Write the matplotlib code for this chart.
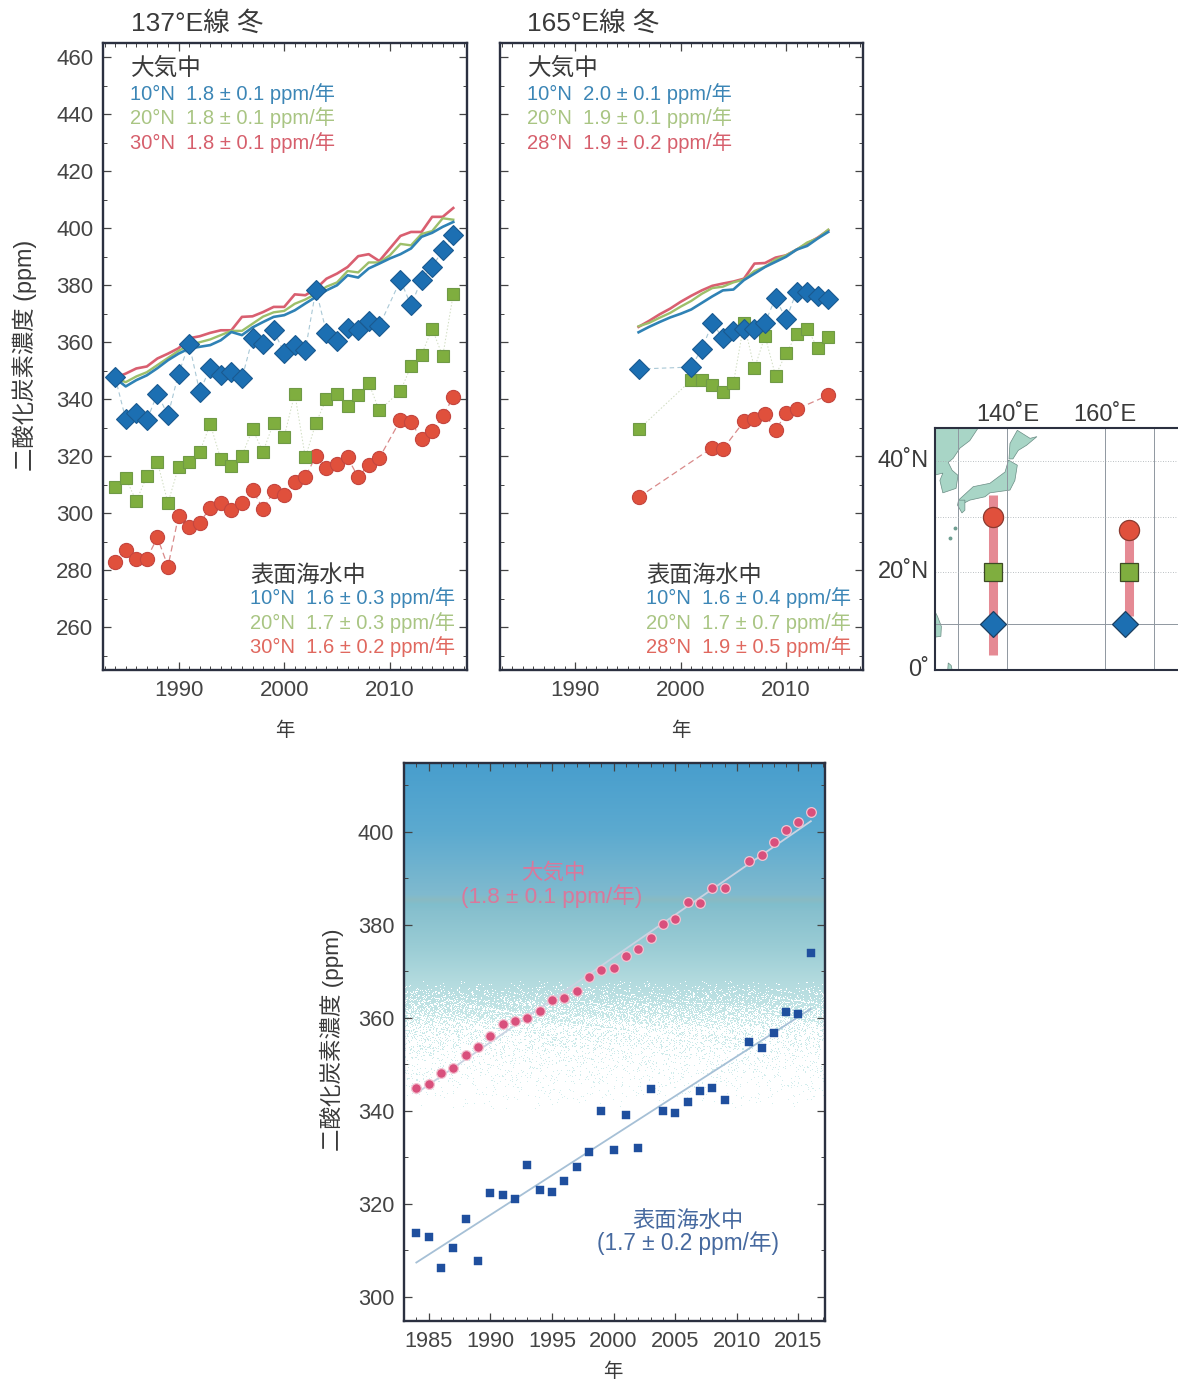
import numpy as np
import matplotlib
matplotlib.use('Agg')
import matplotlib.pyplot as plt
from matplotlib.ticker import MultipleLocator

plt.rcParams['font.family'] = ['Liberation Sans', 'Noto Sans CJK JP', 'DejaVu Sans']

W, H = 1178, 1380

# 137E section, winter
years_137 = [1984, 1985, 1986, 1987, 1988, 1989, 1990, 1991, 1992, 1993, 1994, 1995, 1996, 1997, 1998, 1999,
             2000, 2001, 2002, 2003, 2004, 2005, 2006, 2007, 2008, 2009, 2011, 2012, 2013, 2014, 2015, 2016]
sea_137_10 = [347.7, 333, 335.3, 332.6, 342, 334.3, 349, 359.5, 342.6, 351.1, 348.4, 349.5, 347.3, 361.4, 359.3, 364.2,
              356.2, 358.9, 357.2, 378.5, 363.4, 360.4, 365, 364.2, 367.4, 365.7, 381.8, 373, 382, 386.4, 392.3, 397.6]
sea_137_20 = [309.1, 312.3, 304.3, 312.9, 318, 303.6, 316.2, 318, 321.5, 331.3, 319, 316.5, 320.2, 329.4, 321.6, 331.8,
              326.9, 342, 319.6, 331.7, 340.1, 342, 337.8, 341.6, 345.6, 336.1, 342.9, 351.5, 355.6, 364.8, 355.1, 376.8]
sea_137_30 = [283, 287.1, 284, 284.1, 291.5, 281.3, 299.1, 295.1, 296.7, 301.9, 303.7, 301, 303.5, 308.2, 301.5, 307.7,
              306.4, 310.8, 312.8, 320, 316, 317.2, 319.6, 312.6, 317.1, 319.4, 332.7, 332, 326, 328.9, 334, 340.8]

air_years_137 = list(range(1984, 2017))
air_137_10 = [347.4, 344.5, 346.7, 348.4, 350.9, 353.7, 356, 357.8, 358.4, 359, 360.7, 363.6, 362.5, 365.2, 367.1, 368.9, 369.5,
              371.2, 373.6, 375.9, 378.2, 380, 383.5, 382.7, 385.9, 387.6, 389.4, 390.9, 392.9, 397, 398.4, 400.5, 402.2]
air_137_20 = [347.5, 346, 348, 349.5, 352, 354.5, 357, 359, 360, 361, 362.5, 364, 364, 366.5, 369, 370.5, 371,
              373.5, 375, 377, 379.5, 381, 385, 384.5, 388, 388, 390.5, 394.5, 394, 398, 399, 403.5, 403]
air_137_30 = [347.5, 349, 350.8, 351.5, 354.3, 356, 357.9, 361.4, 362.1, 363.3, 364.2, 364.2, 368.9, 369.1, 370.6, 372.4, 372.4,
              376.8, 376.5, 378.8, 382.3, 384.1, 386.4, 390.2, 390.9, 388.5, 392.9, 397.3, 398.7, 398.7, 404, 404, 407.1]

# 165E section, winter
years_165_10 = [1996, 2001, 2002, 2003, 2004, 2005, 2006, 2007, 2008, 2009, 2010, 2011, 2012, 2013, 2014]
sea_165_10 = [350.6, 351.3, 357.7, 366.6, 361.6, 363.9, 364.5, 364.8, 366.8, 375.6, 368, 377.8, 377.5, 376.3, 375.1]
years_165_20 = [1996, 2001, 2002, 2003, 2004, 2005, 2006, 2007, 2008, 2009, 2010, 2011, 2012, 2013, 2014]
sea_165_20 = [329.4, 346.7, 346.7, 344.9, 342.6, 345.6, 366.6, 350.8, 362.2, 348.3, 356.1, 362.8, 364.8, 358, 362]
years_165_28 = [1996, 2003, 2004, 2006, 2007, 2008, 2009, 2010, 2011, 2014]
sea_165_28 = [305.6, 323, 322.5, 332.2, 333.1, 334.9, 329.1, 335, 336.5, 341.4]

air_years_165 = list(range(1996, 2015))
air_165_10 = [363.5, 365.4, 367.1, 368.7, 370, 371.5, 373.8, 376.1, 378.2, 378.5, 381.8, 384.1, 386.4, 388.2, 390, 392.5, 393.8, 396.4, 398.7]
air_165_20 = [365.6, 366.8, 368.6, 370.3, 372.5, 374.5, 377, 379, 379.5, 381, 382, 385, 386.5, 389, 390.5, 392.5, 395, 396.5, 399.5]
air_165_28 = [365.4, 367.5, 369.8, 371.8, 374.2, 376.3, 378.2, 379.8, 380.6, 381.3, 382.3, 387.6, 387.8, 389.7, 390.5, 392.5, 394.6, 396.7, 399.3]

# mean of the two sections (bottom panel)
years_mean = years_137
air_mean = [344.8, 345.8, 348.2, 349.3, 352, 353.8, 356, 358.7, 359.4, 359.9, 361.5, 363.8, 364.2, 365.8, 368.8, 370.3,
            370.8, 373.3, 374.7, 377.2, 380.1, 381.3, 384.8, 384.6, 387.9, 387.9, 393.7, 395.1, 397.8, 400.4, 402.2, 404.3]
sea_mean = [313.8, 312.8, 306.3, 310.4, 316.7, 307.8, 322.3, 322, 321, 328.4, 322.9, 322.6, 325, 327.9, 331.1, 339.9,
            331.5, 339.1, 331.9, 344.6, 339.9, 339.5, 341.8, 344.3, 345, 342.3, 354.7, 353.6, 356.7, 361.2, 360.8, 374]

# coastlines of the small map, lon/lat
land_asia = [(125, 47), (135, 47), (134.1, 45.8), (132.4, 43.6), (130.4, 42.3), (129, 40.5), (128, 39.8), (128.8, 38.4),
             (130, 37.5), (129.6, 35.2), (126.9, 34.4), (126.3, 36.6), (126.9, 37.9), (125, 37.5)]
land_honshu = [(140.3, 40.2), (142.1, 39.3), (141.6, 36.6), (140.6, 34.9), (136.5, 34.4), (135.5, 33.7), (132.4, 33.1), (130.4, 32.2),
               (130.1, 33.1), (133.1, 35.5), (136.5, 36.1), (139.6, 38.1)]
land_hokkaido = [(140.6, 43.1), (142.1, 45.4), (144.7, 44), (146.1, 44.3), (144, 42.8), (142.3, 41.9), (141.2, 40.4), (140.4, 40.4)]
land_kyushu = [(130.1, 33.1), (131.4, 33.1), (131.4, 31.3), (130.8, 30.8), (129.9, 32.2)]
land_phil = [(125, 13), (125.8, 11.5), (126.6, 9.5), (126.5, 7.5), (125, 7.3)]
land_halm = [(127.9, 0), (128.8, 0), (128.6, 1.2), (128, 1.8)]
islands_lon = [128.4, 129.4]
islands_lat = [26.2, 28]

BLUE, GREEN, RED = '#1c6fb2', '#7fae3f', '#e0503c'
BLUE_E, GREEN_E, RED_E = '#1a5a90', '#6f9a46', '#c4463f'
TXT = '#3a3a3a'
FRAME = '#2b3040'


def make_axes(l, t, r, b):
    return plt.gcf().add_axes([l / W, 1 - b / H, (r - l) / W, (b - t) / H])


def label(x, y, s, **kw):
    kw.setdefault('color', TXT)
    kw.setdefault('fontsize', 17)
    kw.setdefault('ha', 'left')
    kw.setdefault('va', 'center')
    return plt.gcf().text(x / W, 1 - y / H, s, **kw)


def style_axes(ax):
    for s in ax.spines.values():
        s.set_linewidth(1.7)
        s.set_color(FRAME)
    ax.tick_params(which='both', direction='in', top=True, right=True, color='#444444', labelcolor='#444444')
    ax.tick_params(which='major', length=6, width=0.9, labelsize=16, pad=7)
    ax.tick_params(which='minor', length=3, width=0.7)


def section(ax, series, air, air_years):
    style_axes(ax)
    ax.set_xlim(1982.85, 2017.3)
    ax.set_ylim(245, 465)
    ax.set_yticks(np.arange(260, 461, 20))
    ax.yaxis.set_minor_locator(MultipleLocator(10))
    ax.set_xticks([1990, 2000, 2010])
    ax.xaxis.set_minor_locator(MultipleLocator(1))
    # atmosphere
    ax.plot(air_years, air[2], color='#d95f70', lw=1.9, zorder=2)
    ax.plot(air_years, air[1], color='#9dbf6a', lw=1.7, zorder=2.1)
    ax.plot(air_years, air[0], color='#2f82b5', lw=1.9, zorder=2.2)
    # surface seawater
    yrs, vals = series[2]
    ax.plot(yrs, vals, color='#d98a8a', lw=0.9, ls=(0, (5, 3)), zorder=1.5)
    ax.plot(yrs, vals, 'o', ms=10.2, mfc=RED, mec=RED_E, mew=0.8, zorder=3)
    yrs, vals = series[1]
    ax.plot(yrs, vals, color='#cfdcc0', lw=0.7, ls=(0, (1.5, 2)), zorder=1.5)
    ax.plot(yrs, vals, 's', ms=8.8, mfc=GREEN, mec=GREEN_E, mew=0.8, zorder=3.1)
    yrs, vals = series[0]
    ax.plot(yrs, vals, color='#a9c8d6', lw=0.8, ls=(0, (4, 3)), zorder=1.5)
    ax.plot(yrs, vals, 'D', ms=10, mfc=BLUE, mec=BLUE_E, mew=0.8, zorder=3.2)


fig = plt.figure(figsize=(W / 100, H / 100), dpi=100, facecolor='white')

# upper left and middle panels
ax1 = make_axes(103, 43, 467, 670)
section(ax1, [(years_137, sea_137_10), (years_137, sea_137_20), (years_137, sea_137_30)],
        [air_137_10, air_137_20, air_137_30], air_years_137)
ax2 = make_axes(500, 43, 863, 670)
section(ax2, [(years_165_10, sea_165_10), (years_165_20, sea_165_20), (years_165_28, sea_165_28)],
        [air_165_10, air_165_20, air_165_28], air_years_165)
ax2.tick_params(axis='y', labelleft=False)

LINE_BLUE, LINE_GREEN, LINE_RED = '#3c86b6', '#a9c583', '#d65f6c'
SEA_RED = '#e0685f'
label(131, 23, '137°E線 冬', fontsize=19)
label(527, 23, '165°E線 冬', fontsize=19)
label(25, 355, '二酸化炭素濃度 (ppm)', rotation=90, ha='center', fontsize=16.8)
label(285, 731, '年', ha='center', fontsize=14)
label(681, 731, '年', ha='center', fontsize=14)

LEG = 14.5
label(131, 69, '大気中')
label(130, 94, '10°N  1.8 ± 0.1 ppm/年', color=LINE_BLUE, fontsize=LEG)
label(130, 118, '20°N  1.8 ± 0.1 ppm/年', color=LINE_GREEN, fontsize=LEG)
label(130, 143, '30°N  1.8 ± 0.1 ppm/年', color=LINE_RED, fontsize=LEG)
label(250, 575, '表面海水中', fontsize=16.7)
label(250, 598, '10°N  1.6 ± 0.3 ppm/年', color=LINE_BLUE, fontsize=LEG)
label(250, 623, '20°N  1.7 ± 0.3 ppm/年', color=LINE_GREEN, fontsize=LEG)
label(250, 647, '30°N  1.6 ± 0.2 ppm/年', color=SEA_RED, fontsize=LEG)

label(528, 69, '大気中')
label(527, 94, '10°N  2.0 ± 0.1 ppm/年', color=LINE_BLUE, fontsize=LEG)
label(527, 118, '20°N  1.9 ± 0.1 ppm/年', color=LINE_GREEN, fontsize=LEG)
label(527, 143, '28°N  1.9 ± 0.2 ppm/年', color=LINE_RED, fontsize=LEG)
label(646, 575, '表面海水中', fontsize=16.7)
label(646, 598, '10°N  1.6 ± 0.4 ppm/年', color=LINE_BLUE, fontsize=LEG)
label(646, 623, '20°N  1.7 ± 0.7 ppm/年', color=LINE_GREEN, fontsize=LEG)
label(646, 647, '28°N  1.9 ± 0.5 ppm/年', color=SEA_RED, fontsize=LEG)

# small map
axm = make_axes(935, 428, 1180, 670)
axm.set_xlim(125.3, 175.3)
axm.set_yscale('function', functions=(lambda v: np.clip(v, 0, None) ** 1.09, lambda v: np.clip(v, 0, None) ** (1 / 1.09)))
axm.set_ylim(0, 45.8)
for s in axm.spines.values():
    s.set_linewidth(1.5)
    s.set_color(FRAME)
for poly in [land_asia, land_honshu, land_hokkaido, land_kyushu, land_phil, land_halm]:
    axm.fill(*zip(*poly), fc='#a8d5c6', ec='#6a8c84', lw=0.5, zorder=1)
axm.plot(islands_lon, islands_lat, 'o', ms=1.8, color='#6f9f92', zorder=1)
for lon in [130, 140, 160, 170]:
    axm.axvline(lon, color='#8f97a0', lw=0.7, zorder=1.5)
axm.axhline(10, color='#8f97a0', lw=0.7, zorder=1.5)
for lat in [20, 30, 40]:
    axm.axhline(lat, color='#a5abb0', lw=0.6, ls=(0, (1, 2)), zorder=1.5)
axm.plot([137.2, 137.2], [34, 3.5], color='#e58a94', lw=6.5, solid_capstyle='butt', zorder=2)
axm.plot([164.9, 164.9], [28, 11.5], color='#e58a94', lw=6.5, solid_capstyle='butt', zorder=2)
axm.plot([137.2, 164.9], [30, 27.8], 'o', ms=14.5, mfc=RED, mec='#8a3a30', mew=0.9, zorder=3)
axm.plot([137.2, 164.9], [20, 20], 's', ms=13, mfc=GREEN, mec='#3d4a25', mew=0.9, zorder=3)
axm.plot([137.2, 164], [10, 10], 'D', ms=13.5, mfc=BLUE, mec='#1c3f60', mew=0.9, zorder=3)
axm.set_xticks([])
axm.set_yticks([])
label(1008, 415, '140˚E', ha='center', fontsize=17)
label(1105, 415, '160˚E', ha='center', fontsize=17)
label(929, 461, '40˚N', ha='right', fontsize=17)
label(929, 572, '20˚N', ha='right', fontsize=17)
label(929, 670, '0˚', ha='right', fontsize=17)

# bottom panel
ax3 = make_axes(404, 763, 825, 1321)
style_axes(ax3)
ax3.set_xlim(1983, 2017.15)
ax3.set_ylim(294.8, 414.8)

# background: blue air fading to stippled white water
rows, cols = 558, 421
ppm = np.linspace(414.8, 294.8, rows)
stop_ppm = [414.8, 400, 386.5, 385.5, 384.5, 383, 375, 368, 360, 345, 294.8]
stop_r = [72, 92, 128, 138, 128, 135, 155, 178, 200, 212, 212]
stop_g = [158, 170, 186, 186, 190, 192, 205, 218, 232, 238, 238]
stop_b = [205, 208, 206, 194, 204, 206, 213, 222, 232, 238, 238]
density = np.interp(ppm, [340, 345, 352, 358, 360, 364, 368, 414.8], [0, 0.04, 0.1, 0.25, 0.5, 0.8, 1, 1])
ii, jj = np.mgrid[0:rows, 0:cols]
dither = (ii * 0.7548777 + jj * 0.5698403 + np.sin(ii * 12.9898 + jj * 78.233) * 43.7585) % 1.0
bg = np.ones((rows, cols, 3))
for k, stop in enumerate([stop_r, stop_g, stop_b]):
    channel = np.interp(ppm, stop_ppm[::-1], stop[::-1]) / 255
    bg[:, :, k] = np.where(dither[:, :] < density[:, None], channel[:, None], 1.0)
ax3.imshow(bg, extent=[1983, 2017.15, 294.8, 414.8], aspect='auto', interpolation='nearest', zorder=0)

yrs = np.array(years_mean)
fit_air = np.polyfit(yrs, air_mean, 1)
fit_sea = np.polyfit(yrs, sea_mean, 1)
ax3.plot(yrs, np.polyval(fit_air, yrs), color='#c9d3e2', lw=1.3, zorder=2)
ax3.plot(yrs, np.polyval(fit_sea, yrs), color='#a6c0d6', lw=1.3, zorder=2)
ax3.plot(years_mean, air_mean, 'o', ms=7, mfc='#d9507c', mec='#f2c4d2', mew=0.9, zorder=3)
ax3.plot(years_mean, sea_mean, 's', ms=5.8, mfc='#1f4f9e', mec='#1f4f9e', mew=0.3, zorder=3)
ax3.set_yticks(np.arange(300, 401, 20))
ax3.yaxis.set_minor_locator(MultipleLocator(10))
ax3.set_xticks(np.arange(1985, 2016, 5))
ax3.xaxis.set_minor_locator(MultipleLocator(1))
ax3.tick_params(which='major', labelsize=15.7, pad=7)

label(332, 1040, '二酸化炭素濃度 (ppm)', rotation=90, ha='center', fontsize=16.2)
label(613, 1372, '年', ha='center', fontsize=14)
label(553, 873, '大気中', ha='center', color='#d9789c', fontsize=15.5)
label(552, 896, '(1.8 ± 0.1 ppm/年)', ha='center', color='#d9789c', fontsize=16.2)
label(688, 1221, '表面海水中', ha='center', color='#46699f', fontsize=16)
label(688, 1243, '(1.7 ± 0.2 ppm/年)', ha='center', color='#46699f', fontsize=16.3)

fig.savefig('out.png', dpi=100)
